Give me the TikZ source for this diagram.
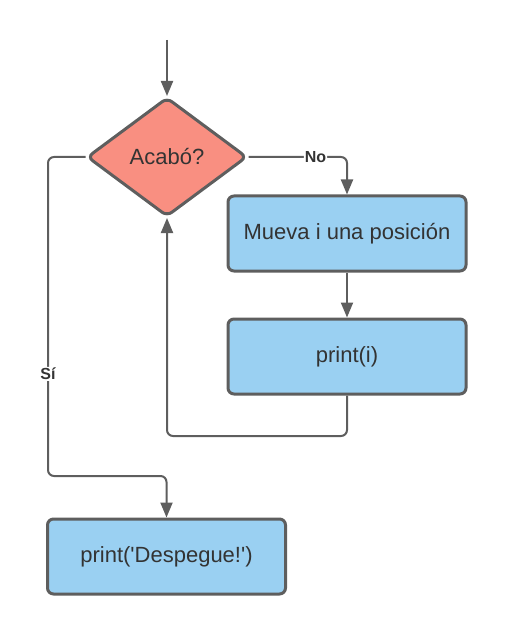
\documentclass[tikz,border=0pt]{standalone}
\usepackage{fontspec}
\setmainfont{Liberation Sans}
\usepackage{tikz}
\usetikzlibrary{shapes.geometric,arrows.meta}

\definecolor{linegray}{HTML}{5E5E5E}
\definecolor{textgray}{HTML}{333333}
\definecolor{boxblue}{HTML}{9AD0F2}
\definecolor{condred}{HTML}{F98F81}

\tikzset{
    procbox/.style = {draw=linegray, line width=3pt, fill=boxblue, rounded corners=6pt,
        minimum width=238pt, minimum height=75pt, text=textgray, font=\fontsize{22}{26}\selectfont},
    condbox/.style = {diamond, draw=linegray, line width=3pt, fill=condred, rounded corners=6pt,
        minimum width=160pt, minimum height=119pt, inner sep=0pt, text=textgray, font=\fontsize{22}{26}\selectfont},
    flow/.style = {draw=linegray, line width=2pt, rounded corners=6pt,
        -{Triangle[length=15pt, width=12pt]}},
    lbl/.style = {fill=white, inner sep=1pt, text=textgray, font=\bfseries\fontsize{16}{19}\selectfont}
}

\begin{document}
\begin{tikzpicture}[x=1pt, y=-1pt]
    \useasboundingbox (0,0) rectangle (507,636);

    \node[condbox] (cond) at (167,157) {Acabó?};
    \node[procbox] (mueva) at (347,233.5) {Mueva i una posición};
    \node[procbox] (printi) at (347,356.5) {print(i)};
    \node[procbox] (despegue) at (166.5,556.5) {print(\textquotesingle Despegue!\textquotesingle)};

    \coordinate (start) at (167,40);
    \coordinate (back) at (167,436);
    \coordinate (si) at (48,476);

    \draw[flow] (start) -- (cond.north);
    \draw[flow] (cond.east) -| node[lbl, pos=0.34] {No} (mueva.north);
    \draw[flow] (mueva) -- (printi);
    \draw[flow] (printi.south) |- (back) -- (cond.south);
    \draw[flow] (cond.west) -| node[lbl, pos=0.84] {Sí} (si) -| (despegue.north);
\end{tikzpicture}
\end{document}
